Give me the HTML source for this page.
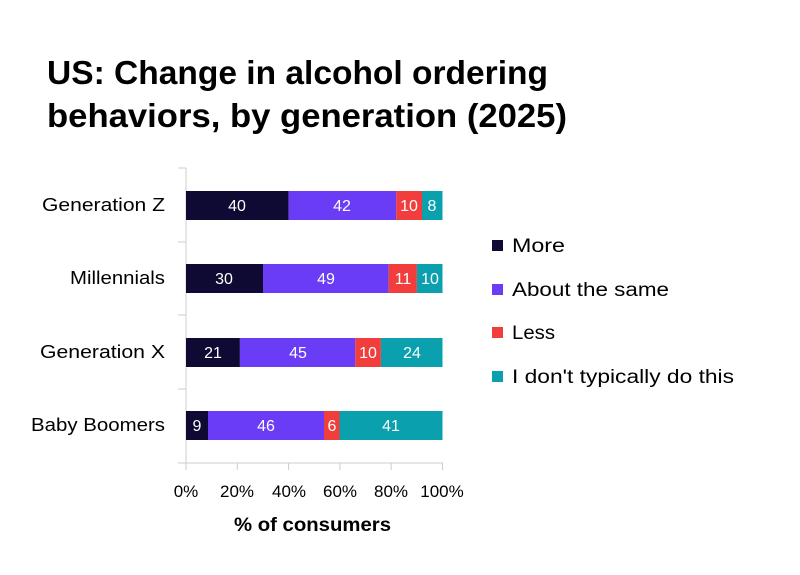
<!DOCTYPE html>
<html><head><meta charset="utf-8"><style>
body{margin:0;background:#fff;}
svg{display:block;font-family:"Liberation Sans",sans-serif;}
</style></head><body>
<svg width="800" height="575" xmlns="http://www.w3.org/2000/svg">
<rect width="800" height="575" fill="#fff"/>
<text x="47" y="84" font-size="33" font-weight="bold" fill="#000" textLength="501" lengthAdjust="spacingAndGlyphs">US: Change in alcohol ordering</text>
<text x="47" y="127" font-size="33" font-weight="bold" fill="#000" textLength="520" lengthAdjust="spacingAndGlyphs">behaviors, by generation (2025)</text>
<g stroke="#ccc" stroke-width="1">
<line x1="186" y1="168" x2="186" y2="463"/>
<line x1="186" y1="463" x2="443" y2="463"/>
<line x1="178" y1="168" x2="186" y2="168"/>
<line x1="178" y1="242" x2="186" y2="242"/>
<line x1="178" y1="315" x2="186" y2="315"/>
<line x1="178" y1="389" x2="186" y2="389"/>
<line x1="178" y1="463" x2="186" y2="463"/>
<line x1="237.3" y1="463" x2="237.3" y2="470"/>
<line x1="288.6" y1="463" x2="288.6" y2="470"/>
<line x1="339.9" y1="463" x2="339.9" y2="470"/>
<line x1="391.2" y1="463" x2="391.2" y2="470"/>
<line x1="442.5" y1="463" x2="442.5" y2="470"/>
<line x1="186" y1="463" x2="186" y2="470"/>
</g>
<g font-size="18" fill="#000">
<text x="42" y="211" textLength="123" lengthAdjust="spacingAndGlyphs">Generation Z</text>
<text x="70" y="284" textLength="95" lengthAdjust="spacingAndGlyphs">Millennials</text>
<text x="40" y="358" textLength="125" lengthAdjust="spacingAndGlyphs">Generation X</text>
<text x="31" y="431" textLength="134" lengthAdjust="spacingAndGlyphs">Baby Boomers</text>
</g>
<g font-size="17" fill="#000" text-anchor="middle">
<text x="186" y="497">0%</text>
<text x="237" y="497">20%</text>
<text x="289" y="497">40%</text>
<text x="340" y="497">60%</text>
<text x="391" y="497">80%</text>
<text x="442" y="497">100%</text>
</g>
<text x="234" y="531" font-size="19" font-weight="bold" textLength="157" lengthAdjust="spacingAndGlyphs">% of consumers</text>
<g font-size="16" fill="#fff" text-anchor="middle">
<rect x="186" y="191" width="102.6" height="29" fill="#0f0a33"/>
<rect x="288.6" y="191" width="107.7" height="29" fill="#6a3cf5"/>
<rect x="396.3" y="191" width="25.7" height="29" fill="#f23d3d"/>
<rect x="422" y="191" width="20.5" height="29" fill="#0aa0ad"/>
<text x="237" y="211">40</text><text x="342" y="211">42</text><text x="409" y="211">10</text><text x="432" y="211">8</text>
<rect x="186" y="264" width="77" height="29" fill="#0f0a33"/>
<rect x="263" y="264" width="125.7" height="29" fill="#6a3cf5"/>
<rect x="388.7" y="264" width="28.2" height="29" fill="#f23d3d"/>
<rect x="416.9" y="264" width="25.6" height="29" fill="#0aa0ad"/>
<text x="224" y="284">30</text><text x="326" y="284">49</text><text x="403" y="284">11</text><text x="430" y="284">10</text>
<rect x="186" y="338" width="53.9" height="29" fill="#0f0a33"/>
<rect x="239.9" y="338" width="115.4" height="29" fill="#6a3cf5"/>
<rect x="355.3" y="338" width="25.6" height="29" fill="#f23d3d"/>
<rect x="380.9" y="338" width="61.6" height="29" fill="#0aa0ad"/>
<text x="213" y="358">21</text><text x="298" y="358">45</text><text x="368" y="358">10</text><text x="412" y="358">24</text>
<rect x="186" y="411" width="22" height="29" fill="#0f0a33"/>
<rect x="208" y="411" width="116" height="29" fill="#6a3cf5"/>
<rect x="324" y="411" width="15.5" height="29" fill="#f23d3d"/>
<rect x="339.5" y="411" width="103" height="29" fill="#0aa0ad"/>
<text x="197" y="431">9</text><text x="266" y="431">46</text><text x="332" y="431">6</text><text x="391" y="431">41</text>
</g>
<g font-size="19" fill="#000">
<rect x="492" y="240" width="11" height="11" fill="#0f0a33"/><text x="512" y="252" textLength="53" lengthAdjust="spacingAndGlyphs">More</text>
<rect x="492" y="284" width="11" height="11" fill="#6a3cf5"/><text x="512" y="296" textLength="157" lengthAdjust="spacingAndGlyphs">About the same</text>
<rect x="492" y="327" width="11" height="11" fill="#f23d3d"/><text x="512" y="339" textLength="43" lengthAdjust="spacingAndGlyphs">Less</text>
<rect x="492" y="371" width="11" height="11" fill="#0aa0ad"/><text x="512" y="383" textLength="222" lengthAdjust="spacingAndGlyphs">I don't typically do this</text>
</g>
</svg>
</body></html>
